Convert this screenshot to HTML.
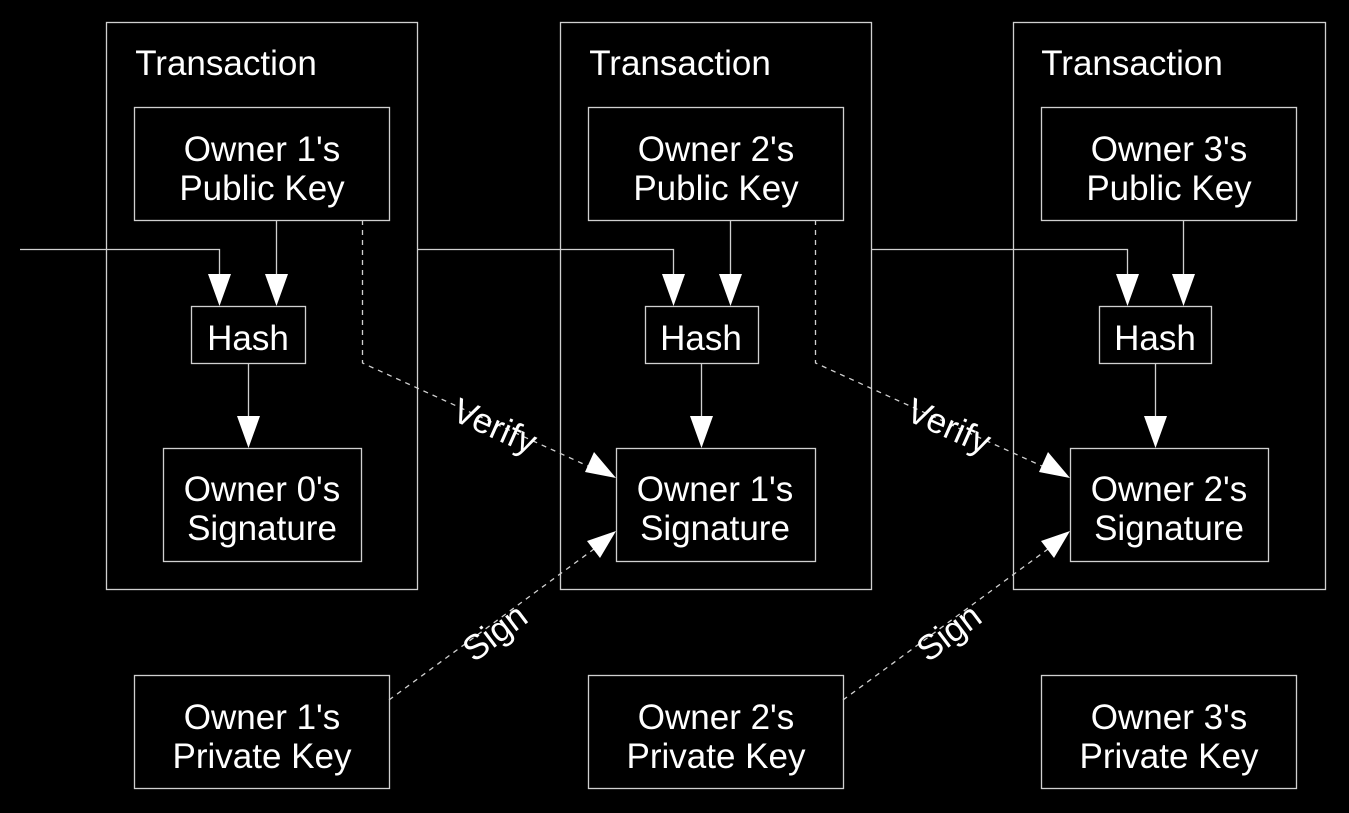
<!DOCTYPE html>
<html><head><style>body{margin:0;background:#000}</style></head><body>
<svg width="1349" height="813" xmlns="http://www.w3.org/2000/svg" style="display:block">
<rect width="1349" height="813" fill="#000"/>
<g fill="none" stroke="#d0d0d0" stroke-width="1.3">
<rect x="106.5" y="22.5" width="311" height="567"/>
<rect x="560.5" y="22.5" width="311" height="567"/>
<rect x="1013.5" y="22.5" width="312" height="567"/>
<rect x="134.5" y="107.5" width="255" height="113"/>
<rect x="588.5" y="107.5" width="255" height="113"/>
<rect x="1041.5" y="107.5" width="255" height="113"/>
<rect x="191.5" y="306.5" width="114" height="57"/>
<rect x="645.5" y="306.5" width="113" height="57"/>
<rect x="1099.5" y="306.5" width="112" height="57"/>
<rect x="163.5" y="448.5" width="198" height="113"/>
<rect x="616.5" y="448.5" width="199" height="113"/>
<rect x="1070.5" y="448.5" width="198" height="113"/>
<rect x="134.5" y="675.5" width="255" height="113"/>
<rect x="588.5" y="675.5" width="255" height="113"/>
<rect x="1041.5" y="675.5" width="255" height="113"/>
<path d="M20 249.5H219.5V280M276.5 220V280M248.5 363V420"/>
<path d="M418 249.5H673.5V280M730.5 220V280M701.5 363V420"/>
<path d="M871 249.5H1127.5V280M1183.5 220V280M1155.5 363V420"/>
<g stroke-dasharray="5,5">
<path d="M362.5 220V363L590 467"/>
<path d="M815.5 220V363L1044 467"/>
<path d="M389 700L594 549"/>
<path d="M843 700L1048 549"/>
</g>
</g>
<g fill="#fff">
<path d="M208 274h23l-11.5 32z M265 274h23l-11.5 32z M237 416h23l-11.5 32z"/>
<path d="M662 274h23l-11.5 32z M719 274h23l-11.5 32z M690 416h23l-11.5 32z"/>
<path d="M1116 274h23l-11.5 32z M1172 274h23l-11.5 32z M1144 416h23l-11.5 32z"/>
<path d="M616 478L585 472L594 452z"/>
<path d="M1070 478L1039 472L1048 452z"/>
<path d="M616 531L600 558L587 541z"/>
<path d="M1070 531L1054 558L1041 541z"/>
</g>
<g fill="#fff" font-family="Liberation Sans, sans-serif" font-size="35" text-anchor="middle">
<text x="226" y="75">Transaction</text>
<text x="680" y="75">Transaction</text>
<text x="1132" y="75">Transaction</text>
<text x="262" y="161">Owner 1's</text><text x="262" y="200">Public Key</text>
<text x="716" y="161">Owner 2's</text><text x="716" y="200">Public Key</text>
<text x="1169" y="161">Owner 3's</text><text x="1169" y="200">Public Key</text>
<text x="248" y="350">Hash</text><text x="701" y="350">Hash</text><text x="1155" y="350">Hash</text>
<text x="262" y="501">Owner 0's</text><text x="262" y="540">Signature</text>
<text x="715" y="501">Owner 1's</text><text x="715" y="540">Signature</text>
<text x="1169" y="501">Owner 2's</text><text x="1169" y="540">Signature</text>
<text x="262" y="729">Owner 1's</text><text x="262" y="768">Private Key</text>
<text x="716" y="729">Owner 2's</text><text x="716" y="768">Private Key</text>
<text x="1169" y="729">Owner 3's</text><text x="1169" y="768">Private Key</text>
<text transform="translate(490,437) rotate(24)">Verify</text>
<text transform="translate(944,437) rotate(24)">Verify</text>
<text transform="translate(502,642) rotate(-37)">Sign</text>
<text transform="translate(956,642) rotate(-37)">Sign</text>
</g>
</svg>
</body></html>
